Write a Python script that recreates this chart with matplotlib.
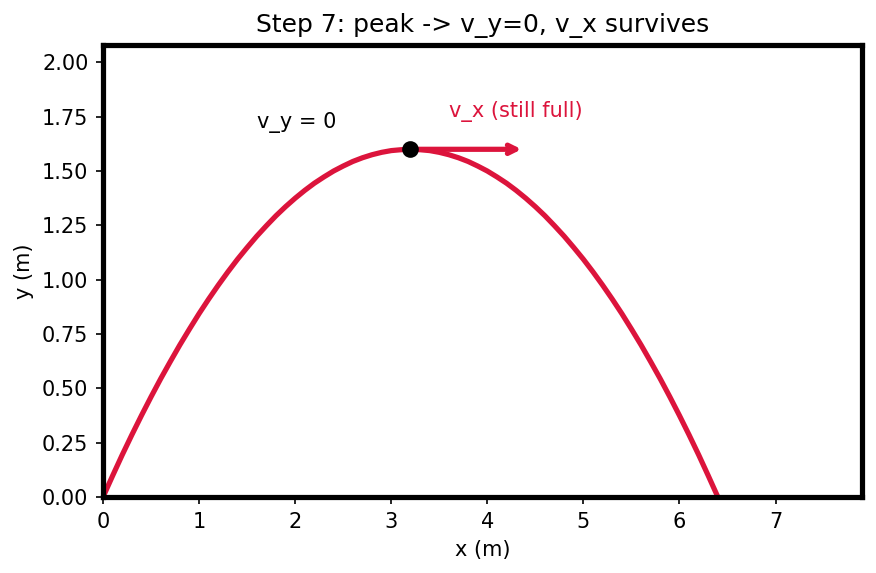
import matplotlib
matplotlib.use('Agg')
import matplotlib.pyplot as plt

# trajectory points (m)
x_m = [0.0, 0.1, 0.2, 0.3, 0.4, 0.5, 0.6, 0.7, 0.8, 0.9, 1.0, 1.1, 1.2, 1.3, 1.4, 1.5,
       1.6, 1.7, 1.8, 1.9, 2.0, 2.1, 2.2, 2.3, 2.4, 2.5, 2.6, 2.7, 2.8, 2.9, 3.0, 3.1,
       3.2, 3.3, 3.4, 3.5, 3.6, 3.7, 3.8, 3.9, 4.0, 4.1, 4.2, 4.3, 4.4, 4.5, 4.6, 4.7,
       4.8, 4.9, 5.0, 5.1, 5.2, 5.3, 5.4, 5.5, 5.6, 5.7, 5.8, 5.9, 6.0, 6.1, 6.2, 6.3, 6.4]
y_m = [0.000, 0.098, 0.194, 0.286, 0.375, 0.461, 0.544, 0.623, 0.700, 0.773, 0.844,
       0.911, 0.975, 1.036, 1.094, 1.148, 1.200, 1.248, 1.294, 1.336, 1.375, 1.411,
       1.444, 1.473, 1.500, 1.523, 1.544, 1.561, 1.575, 1.586, 1.594, 1.598, 1.600,
       1.598, 1.594, 1.586, 1.575, 1.561, 1.544, 1.523, 1.500, 1.473, 1.444, 1.411,
       1.375, 1.336, 1.294, 1.248, 1.200, 1.148, 1.094, 1.036, 0.975, 0.911, 0.844,
       0.773, 0.700, 0.623, 0.544, 0.461, 0.375, 0.286, 0.194, 0.098, 0.000]
peak = (3.2, 1.6)
vx_tip = 4.4

red = '#DC143C'

fig = plt.figure(figsize=(5.84, 3.82), dpi=150)
ax = fig.add_subplot(1, 1, 1)
fig.subplots_adjust(left=0.1176, right=0.984, bottom=0.1326, top=0.9215)

ax.plot(x_m, y_m, color=red, lw=2.5)
ax.annotate('', xy=(vx_tip, peak[1]), xytext=peak,
            arrowprops=dict(arrowstyle='->', color=red, lw=2.5))
ax.plot(peak[0], peak[1], 'o', color='black', markersize=7, zorder=5)

ax.text(1.6, 1.7, 'v_y = 0', fontsize=10, color='black')
ax.text(3.6, 1.75, 'v_x (still full)', fontsize=10, color=red)

ax.set_xlim(0, 7.9)
ax.set_ylim(0, 2.08)
ax.set_xlabel('x (m)')
ax.set_ylabel('y (m)')
ax.set_title('Step 7: peak -> v_y=0, v_x survives')
for s in ax.spines.values():
    s.set_linewidth(2.5)

plt.savefig('out.png', dpi=150)
